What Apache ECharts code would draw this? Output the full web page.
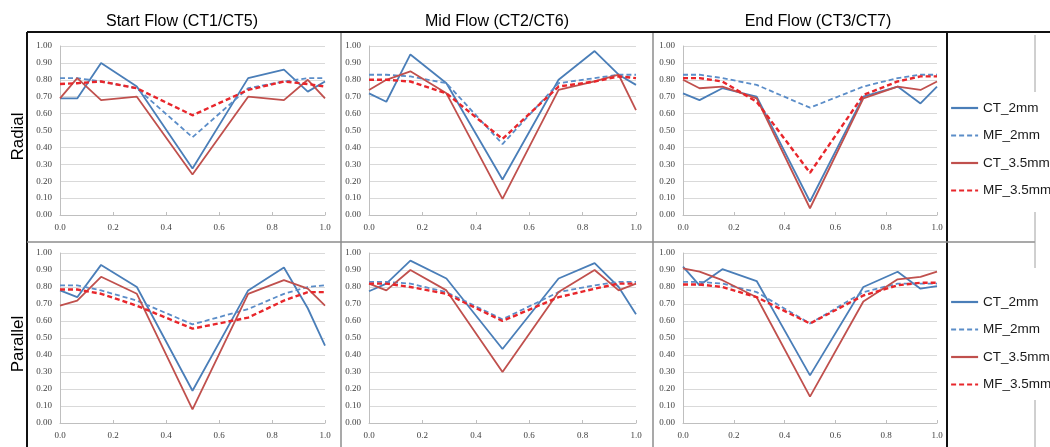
<!DOCTYPE html>
<html>
<head>
<meta charset="utf-8">
<script src="https://cdn.jsdelivr.net/npm/echarts@6/dist/echarts.min.js"></script>
<style>
html,body{margin:0;padding:0;background:#fff;}
#chart{width:1050px;height:447px;}
</style>
</head>
<body>
<div id="chart"></div>
<script>
// ---------- data ----------
const xPositions = [0, 0.065, 0.155, 0.29, 0.5, 0.71, 0.845, 0.935, 1.0];
const columnTitles = ['Start Flow (CT1/CT5)', 'Mid Flow (CT2/CT6)', 'End Flow (CT3/CT7)'];
const rowLabels = ['Radial', 'Parallel'];
const seriesNames = ['CT_2mm', 'MF_2mm', 'CT_3.5mm', 'MF_3.5mm'];

// Radial - Start Flow
const radialStart_CT2  = [0.69, 0.69, 0.90, 0.76, 0.275, 0.81, 0.86, 0.73, 0.79];
const radialStart_MF2  = [0.81, 0.81, 0.79, 0.75, 0.46, 0.75, 0.79, 0.81, 0.81];
const radialStart_CT35 = [0.69, 0.81, 0.68, 0.70, 0.24, 0.70, 0.68, 0.80, 0.69];
const radialStart_MF35 = [0.775, 0.78, 0.79, 0.75, 0.59, 0.74, 0.79, 0.775, 0.76];
// Radial - Mid Flow
const radialMid_CT2  = [0.72, 0.67, 0.95, 0.78, 0.21, 0.80, 0.97, 0.83, 0.77];
const radialMid_MF2  = [0.83, 0.83, 0.82, 0.78, 0.42, 0.78, 0.81, 0.83, 0.83];
const radialMid_CT35 = [0.74, 0.80, 0.85, 0.72, 0.095, 0.74, 0.79, 0.83, 0.62];
const radialMid_MF35 = [0.80, 0.80, 0.79, 0.72, 0.45, 0.76, 0.79, 0.82, 0.81];
// Radial - End Flow
const radialEnd_CT2  = [0.72, 0.68, 0.75, 0.70, 0.08, 0.70, 0.76, 0.66, 0.76];
const radialEnd_MF2  = [0.83, 0.83, 0.81, 0.77, 0.635, 0.76, 0.81, 0.83, 0.83];
const radialEnd_CT35 = [0.80, 0.75, 0.76, 0.69, 0.04, 0.69, 0.76, 0.74, 0.79];
const radialEnd_MF35 = [0.81, 0.81, 0.79, 0.67, 0.25, 0.71, 0.79, 0.82, 0.82];
// Parallel - Start Flow
const parallelStart_CT2  = [0.78, 0.74, 0.93, 0.80, 0.19, 0.78, 0.915, 0.675, 0.455];
const parallelStart_MF2  = [0.81, 0.81, 0.78, 0.72, 0.58, 0.67, 0.76, 0.80, 0.81];
const parallelStart_CT35 = [0.69, 0.72, 0.86, 0.76, 0.08, 0.76, 0.84, 0.79, 0.69];
const parallelStart_MF35 = [0.785, 0.785, 0.76, 0.69, 0.555, 0.62, 0.72, 0.77, 0.77];
// Parallel - Mid Flow
const parallelMid_CT2  = [0.775, 0.82, 0.955, 0.85, 0.435, 0.85, 0.94, 0.80, 0.64];
const parallelMid_MF2  = [0.83, 0.83, 0.82, 0.77, 0.61, 0.77, 0.81, 0.83, 0.83];
const parallelMid_CT35 = [0.82, 0.78, 0.90, 0.78, 0.30, 0.77, 0.90, 0.78, 0.82];
const parallelMid_MF35 = [0.82, 0.82, 0.80, 0.76, 0.60, 0.74, 0.79, 0.82, 0.82];
// Parallel - End Flow
const parallelEnd_CT2  = [0.92, 0.81, 0.905, 0.835, 0.28, 0.80, 0.89, 0.79, 0.805];
const parallelEnd_MF2  = [0.83, 0.83, 0.82, 0.77, 0.585, 0.77, 0.82, 0.82, 0.82];
const parallelEnd_CT35 = [0.91, 0.89, 0.84, 0.74, 0.155, 0.715, 0.845, 0.86, 0.89];
const parallelEnd_MF35 = [0.815, 0.815, 0.80, 0.74, 0.585, 0.75, 0.81, 0.825, 0.825];

const panels = [
  [radialStart_CT2, radialStart_MF2, radialStart_CT35, radialStart_MF35],
  [radialMid_CT2, radialMid_MF2, radialMid_CT35, radialMid_MF35],
  [radialEnd_CT2, radialEnd_MF2, radialEnd_CT35, radialEnd_MF35],
  [parallelStart_CT2, parallelStart_MF2, parallelStart_CT35, parallelStart_MF35],
  [parallelMid_CT2, parallelMid_MF2, parallelMid_CT35, parallelMid_MF35],
  [parallelEnd_CT2, parallelEnd_MF2, parallelEnd_CT35, parallelEnd_MF35]
];

// ---------- layout / style ----------
const colLeft = [60, 369, 683];
const colWidth = [265, 267, 254];
const rowTop = [46, 253];
const rowHeight = [169, 170];
const titleCenters = [182, 497, 818];

const seriesStyles = [
  {color: '#4a7eb8', type: 'solid', width: 1.8},
  {color: '#5b8dc8', type: [5, 3], width: 1.8},
  {color: '#c0504d', type: 'solid', width: 1.8},
  {color: '#e8262b', type: [5, 3], width: 2.4}
];

const labelFont = {fontFamily: 'Liberation Serif', fontSize: 9, color: '#404040'};

const grids = [], xAxes = [], yAxes = [], series = [];
for (let p = 0; p < 6; p++) {
  const r = Math.floor(p / 3), c = p % 3;
  grids.push({left: colLeft[c], top: rowTop[r], width: colWidth[c], height: rowHeight[r], containLabel: false});
  xAxes.push({
    type: 'value', gridIndex: p, min: 0, max: 1, interval: 0.2,
    axisLine: {show: true, lineStyle: {color: '#bfbfbf', width: 1}},
    axisTick: {show: true, inside: true, length: 3, lineStyle: {color: '#bfbfbf'}},
    splitLine: {show: false},
    axisLabel: Object.assign({margin: 8, formatter: v => v.toFixed(1)}, labelFont)
  });
  yAxes.push({
    type: 'value', gridIndex: p, min: 0, max: 1, interval: 0.1,
    axisLine: {show: true, lineStyle: {color: '#bfbfbf', width: 1}},
    axisTick: {show: false},
    splitLine: {show: true, lineStyle: {color: '#d9d9d9', width: 1}},
    axisLabel: Object.assign({margin: 8, formatter: v => v.toFixed(2)}, labelFont)
  });
  for (let s = 0; s < 4; s++) {
    const st = seriesStyles[s];
    series.push({
      name: seriesNames[s], type: 'line', xAxisIndex: p, yAxisIndex: p,
      data: xPositions.map((x, i) => [x, panels[p][s][i]]),
      symbol: 'none', animation: false,
      lineStyle: {color: st.color, type: st.type, width: st.width},
      itemStyle: {color: st.color}
    });
  }
}

const legendCommon = {
  orient: 'vertical', left: 950, padding: 0, itemWidth: 27, itemHeight: 14, itemGap: 13.5,
  itemStyle: {opacity: 0},
  lineStyle: {width: 2.2},
  textStyle: {fontFamily: 'Liberation Sans', fontSize: 13.5, color: '#1a1a1a'},
  data: seriesNames
};

const graphics = [
  // outer frame
  {type: 'line', shape: {x1: 27, y1: 32, x2: 1050, y2: 32}, style: {stroke: '#111', lineWidth: 2}},
  {type: 'line', shape: {x1: 27, y1: 32, x2: 27, y2: 447}, style: {stroke: '#111', lineWidth: 2}},
  {type: 'line', shape: {x1: 947, y1: 32, x2: 947, y2: 447}, style: {stroke: '#111', lineWidth: 2}},
  // separators
  {type: 'line', shape: {x1: 341, y1: 33, x2: 341, y2: 447}, style: {stroke: '#8c8c8c', lineWidth: 1.5}},
  {type: 'line', shape: {x1: 653, y1: 33, x2: 653, y2: 447}, style: {stroke: '#8c8c8c', lineWidth: 1.5}},
  {type: 'line', shape: {x1: 27, y1: 242, x2: 1035, y2: 242}, style: {stroke: '#8c8c8c', lineWidth: 1.5}},
  // faint right-side lines
  {type: 'line', shape: {x1: 1035, y1: 35, x2: 1035, y2: 92}, style: {stroke: '#a0a0a0', lineWidth: 1}},
  {type: 'line', shape: {x1: 1035, y1: 212, x2: 1035, y2: 268}, style: {stroke: '#a0a0a0', lineWidth: 1}},
  {type: 'line', shape: {x1: 1035, y1: 400, x2: 1035, y2: 447}, style: {stroke: '#a0a0a0', lineWidth: 1}}
];
columnTitles.forEach((t, c) => {
  graphics.push({type: 'text', x: titleCenters[c], y: 22,
    style: {text: t, font: '16px "Liberation Sans"', fill: '#000', textAlign: 'center', textVerticalAlign: 'middle'}});
});
rowLabels.forEach((t, r) => {
  graphics.push({type: 'text', x: 18, y: rowTop[r] + rowHeight[r] / 2 + 6, rotation: Math.PI / 2,
    style: {text: t, font: '17px "Liberation Sans"', fill: '#000', textAlign: 'center', textVerticalAlign: 'middle'}});
});

const chart = echarts.init(document.getElementById('chart'), null, {renderer: 'canvas'});
chart.setOption({
  backgroundColor: '#fff',
  animation: false,
  grid: grids,
  xAxis: xAxes,
  yAxis: yAxes,
  legend: [
    Object.assign({}, legendCommon, {top: 101}),
    Object.assign({}, legendCommon, {top: 295})
  ],
  graphic: graphics,
  series: series
});
</script>
</body>
</html>
